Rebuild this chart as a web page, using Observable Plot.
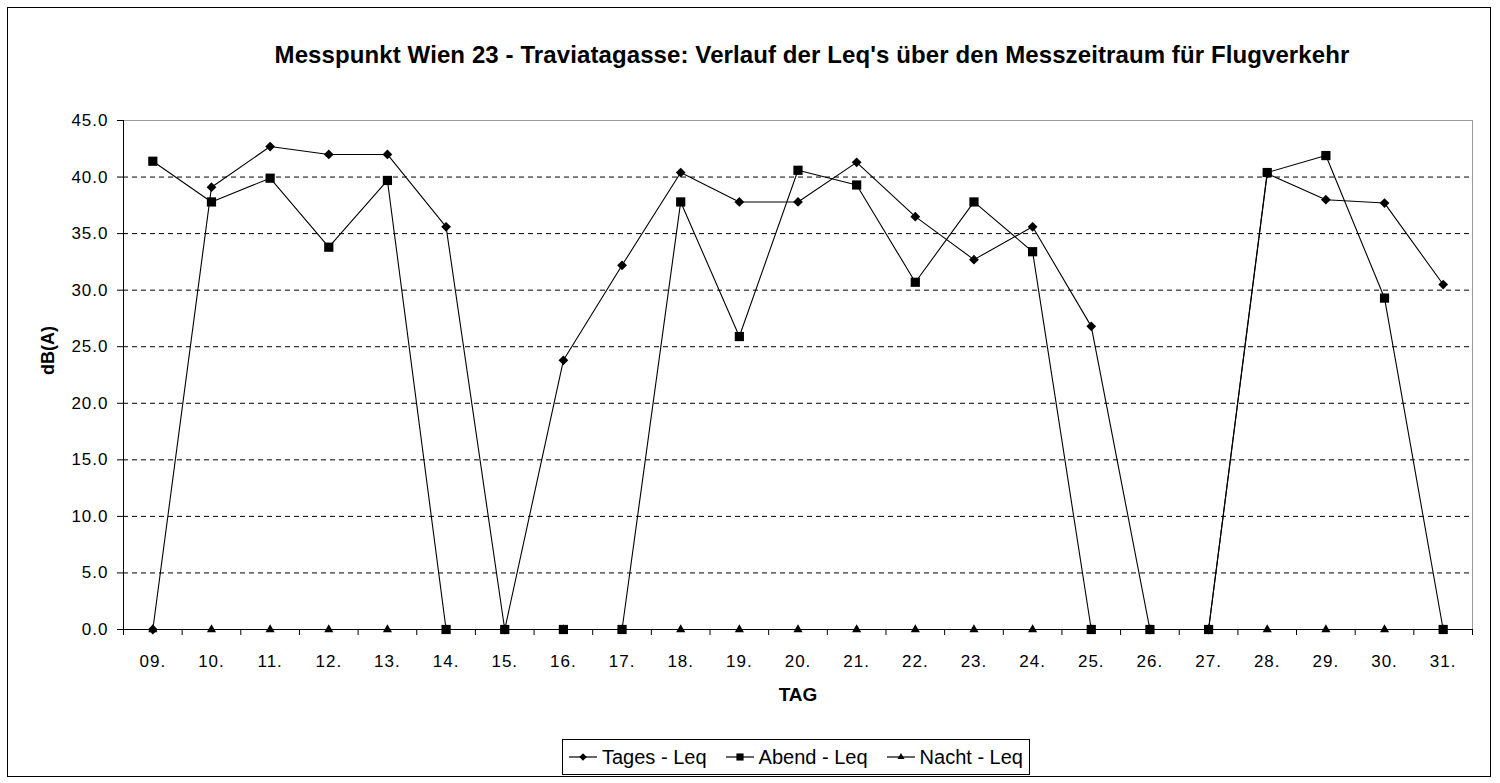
<!DOCTYPE html>
<html>
<head>
<meta charset="utf-8">
<script src="https://cdn.jsdelivr.net/npm/d3@7"></script>
<script src="https://cdn.jsdelivr.net/npm/@observablehq/plot@0.6"></script>
<style>
  html, body { margin: 0; padding: 0; background: #fff; }
  body { font-family: Arial, "Liberation Sans", sans-serif; color: #000; }
  #wrap { position: relative; width: 1500px; height: 783px; overflow: hidden; background: #fff; }
  #frame { position: absolute; left: 7px; top: 7px; width: 1484px; height: 770px; border: 1px solid #000; box-sizing: border-box; }
  #title { position: absolute; left: 812px; top: 40px; transform: translateX(-50%); white-space: nowrap; font-weight: bold; font-size: 24px; line-height: 30px; letter-spacing: 0.1px; }
  #chart { position: absolute; left: 0; top: 100px; }
  #chart g[aria-label="y-axis tick label"] text, #chart g[aria-label="x-axis tick label"] text { letter-spacing: 1px; }
  #legend { position: absolute; left: 562px; top: 739px; width: 468px; height: 36px; border: 1px solid #000; box-sizing: border-box; display: flex; align-items: center; justify-content: space-between; padding: 0 6px; font-size: 20px; white-space: nowrap; }
  #legend .item { display: flex; align-items: center; }
  #legend svg { margin-right: 5px; }
</style>
</head>
<body>
<div id="wrap">
  <div id="frame"></div>
  <div id="title"></div>
  <div id="chart"></div>
  <div id="legend"></div>
</div>
<script>
// ---- data ----
const titleText = "Messpunkt Wien 23 - Traviatagasse: Verlauf der Leq's über den Messzeitraum für Flugverkehr";
const days = ["09.","10.","11.","12.","13.","14.","15.","16.","17.","18.","19.","20.","21.","22.","23.","24.","25.","26.","27.","28.","29.","30.","31."];
const tagesLeq = [0, 39.1, 42.7, 42.0, 42.0, 35.6, 0, 23.8, 32.2, 40.4, 37.8, 37.8, 41.3, 36.5, 32.7, 35.6, 26.8, 0, 0, 40.3, 38.0, 37.7, 30.5];
const abendLeq = [41.4, 37.8, 39.9, 33.8, 39.7, 0, 0, 0, 0, 37.8, 25.9, 40.6, 39.3, 30.7, 37.8, 33.4, 0, 0, 0, 40.4, 41.9, 29.3, 0];
const nachtLeq = [0, 0, 0, 0, 0, 0, 0, 0, 0, 0, 0, 0, 0, 0, 0, 0, 0, 0, 0, 0, 0, 0, 0];
const seriesNames = ["Tages - Leq", "Abend - Leq", "Nacht - Leq"];
const yTicks = [0, 5, 10, 15, 20, 25, 30, 35, 40, 45];
const yLabel = "dB(A)";
const xLabel = "TAG";

// ---- styling ----
const seriesValues = [tagesLeq, abendLeq, nachtLeq];
const seriesSymbols = ["diamond2", "square", "triangle"];
const seriesR = [4.4, 5.2, 3.4];
const dotOrder = [0, 2, 1]; // Tages, then Nacht, then Abend on top

document.getElementById("title").textContent = titleText;

const rowsOf = vals => vals.map((v, i) => ({i, v}));

const lineMarks = seriesValues.map(vals =>
  Plot.line(rowsOf(vals), {x: "i", y: "v", stroke: "#000", strokeWidth: 1.1}));
const dotMarks = dotOrder.map(k =>
  Plot.dot(rowsOf(seriesValues[k]), {x: "i", y: "v", symbol: () => seriesSymbols[k], r: seriesR[k], fill: "#000", stroke: "none"}));

const chart = Plot.plot({
  width: 1500,
  height: 630,
  marginTop: 20,
  marginBottom: 101,
  marginLeft: 123,
  marginRight: 28,
  style: {fontFamily: "Arial, 'Liberation Sans', sans-serif", fontSize: "17px", background: "transparent", color: "#000", overflow: "visible"},
  x: {type: "linear", domain: [-0.5, days.length - 0.5]},
  y: {type: "linear", domain: [0, 45]},
  symbol: {type: "identity"},
  marks: [
    Plot.ruleY(yTicks.filter(d => d > 0 && d < 45), {stroke: "#000", strokeDasharray: "5,4", strokeWidth: 1}),
    Plot.frame({stroke: "#9a9a9a"}),
    Plot.ruleX([-0.5], {stroke: "#000", strokeWidth: 1}),
    Plot.ruleY([0], {stroke: "#000", strokeWidth: 1}),
    Plot.axisY({ticks: yTicks, tickFormat: d => d.toFixed(1), tickSize: 6, tickPadding: 9, fontSize: 17, label: null, stroke: "#000"}),
    Plot.axisX({ticks: d3.range(-0.5, days.length, 1), tickFormat: () => "", tickSize: 6, label: null, stroke: "#000"}),
    Plot.axisX({ticks: d3.range(days.length), tickFormat: i => days[i], tickSize: 0, tickPadding: 25, fontSize: 17, label: null}),
    Plot.text([yLabel], {frameAnchor: "left", dx: -75, rotate: -90, fontWeight: "bold", fontSize: 18}),
    Plot.text([xLabel], {frameAnchor: "bottom", dy: 71, fontWeight: "bold", fontSize: 19}),
    ...lineMarks,
    ...dotMarks
  ]
});
document.getElementById("chart").appendChild(chart);

// ---- legend ----
const legend = d3.select("#legend");
seriesNames.forEach((name, k) => {
  const item = legend.append("div").attr("class", "item");
  const svg = item.append("svg").attr("width", 28).attr("height", 14);
  svg.append("line").attr("x1", 0).attr("x2", 28).attr("y1", 7).attr("y2", 7).attr("stroke", "#000").attr("stroke-width", 1.2);
  const symType = [d3.symbolDiamond2, d3.symbolSquare, d3.symbolTriangle][k];
  const size = Math.PI * seriesR[k] * seriesR[k] * 0.6;
  svg.append("path").attr("d", d3.symbol(symType, size)()).attr("transform", "translate(14,7)").attr("fill", "#000");
  item.append("span").text(name);
});
</script>
</body>
</html>
